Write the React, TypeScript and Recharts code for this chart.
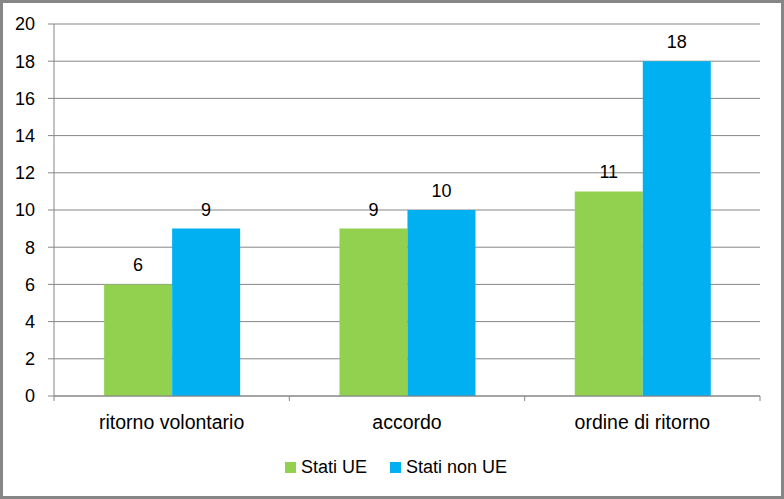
import React from "react";
import { BarChart, Bar, XAxis, YAxis, CartesianGrid, Legend, LabelList } from "recharts";

const categories = ["ritorno volontario", "accordo", "ordine di ritorno"];
const statiUE = [6, 9, 11];
const statiNonUE = [9, 10, 18];
const yTicks = [0, 2, 4, 6, 8, 10, 12, 14, 16, 18, 20];

const data = categories.map((c, i) => ({ name: c, ue: statiUE[i], nonue: statiNonUE[i] }));

const FONT = "'Liberation Sans', Arial, sans-serif";
const GREEN = "#92D050";
const BLUE = "#00B0F0";
const GRAY = "#868686";

const XTick = (props: any) => {
  const { x, y, payload, index, visibleTicksCount } = props;
  const off = payload && typeof payload.offset === "number" ? payload.offset : 0;
  return (
    <g>
      {off > 0 && <line x1={x - off} x2={x - off} y1={y} y2={y + 5} stroke={GRAY} />}
      {off > 0 && index === visibleTicksCount - 1 && (
        <line x1={x + off} x2={x + off} y1={y} y2={y + 5} stroke={GRAY} />
      )}
      <text x={x} y={y + 33} textAnchor="middle" fill="#000" fontSize={19.5} fontFamily={FONT}>
        {payload.value}
      </text>
    </g>
  );
};

const LegendContent = () => (
  <div
    style={{
      display: "flex",
      justifyContent: "center",
      alignItems: "center",
      height: 22,
      fontFamily: FONT,
      fontSize: 18,
      color: "#000",
      paddingLeft: 32,
    }}
  >
    <span style={{ display: "inline-block", width: 11, height: 11, background: GREEN, marginRight: 5 }} />
    <span style={{ marginRight: 23 }}>Stati UE</span>
    <span style={{ display: "inline-block", width: 11, height: 11, background: BLUE, marginRight: 5 }} />
    <span>Stati non UE</span>
  </div>
);

export default function App() {
  return (
    <div style={{ position: "absolute", left: 0, top: 0, width: 784, height: 499, background: "#fff" }}>
      <BarChart
        width={784}
        height={499}
        data={data}
        margin={{ top: 24, right: 24, left: 0, bottom: 21 }}
        barCategoryGap="21.3%"
        barGap={0}
      >
        <CartesianGrid vertical={false} stroke={GRAY} strokeDasharray="" />
        <XAxis
          dataKey="name"
          height={60}
          tickSize={0}
          tickMargin={0}
          axisLine={{ stroke: GRAY }}
          tickLine={false}
          tick={<XTick />}
          interval={0}
        />
        <YAxis
          width={54}
          domain={[0, 20]}
          ticks={yTicks}
          interval={0}
          tickSize={6}
          tickMargin={13}
          axisLine={{ stroke: GRAY }}
          tickLine={{ stroke: GRAY }}
          tick={{ fill: "#000", fontSize: 18, fontFamily: FONT }}
        />
        <Legend verticalAlign="bottom" content={<LegendContent />} />
        <Bar dataKey="ue" name="Stati UE" fill={GREEN} isAnimationActive={false}>
          <LabelList dataKey="ue" position="top" offset={13} fill="#000" fontSize={18} fontFamily={FONT} />
        </Bar>
        <Bar dataKey="nonue" name="Stati non UE" fill={BLUE} isAnimationActive={false}>
          <LabelList dataKey="nonue" position="top" offset={13} fill="#000" fontSize={18} fontFamily={FONT} />
        </Bar>
      </BarChart>
      <div
        style={{
          position: "absolute",
          left: 0,
          top: 0,
          width: 784,
          height: 499,
          boxSizing: "border-box",
          border: `3px solid ${GRAY}`,
          pointerEvents: "none",
        }}
      />
    </div>
  );
}
